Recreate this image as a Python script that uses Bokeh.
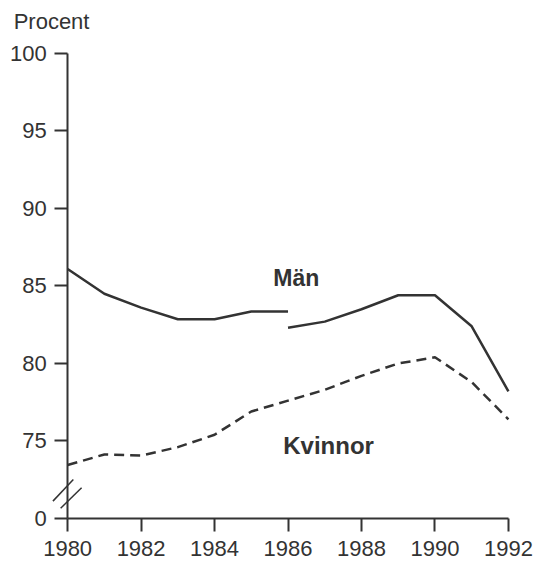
from bokeh.plotting import figure
from bokeh.models import FixedTicker, Label, Range1d
from bokeh.embed import file_html
from bokeh.resources import INLINE

years = list(range(1980, 1993))
men_years_a = [1980, 1981, 1982, 1983, 1984, 1985, 1986]
men_values_a = [86.1, 84.5, 83.6, 82.85, 82.85, 83.35, 83.35]
men_years_b = [1986, 1987, 1988, 1989, 1990, 1991, 1992]
men_values_b = [82.3, 82.7, 83.5, 84.4, 84.4, 82.4, 78.2]
women_values = [73.45, 74.13, 74.06, 74.6, 75.4, 76.9, 77.6, 78.3, 79.2, 80.0, 80.4, 78.8, 76.4]
y_ticks = [70, 75, 80, 85, 90, 95, 100]
y_tick_labels = {70: "0", 75: "75", 80: "80", 85: "85", 90: "90", 95: "95", 100: "100"}
x_ticks = [1980, 1982, 1984, 1986, 1988, 1990, 1992]

INK = "#333333"
FONT = "Liberation Sans"

# frame spans the whole canvas area; axes are fixed at 1980 / 70
p = figure(width=534, height=562, output_backend="svg", toolbar_location=None,
           x_range=Range1d(1978.39, 1992.71), y_range=Range1d(67.16, 102.9),
           min_border_left=8, min_border_right=0, min_border_top=8, min_border_bottom=0)
p.background_fill_color = "white"
p.border_fill_color = "white"
p.outline_line_color = None
p.grid.visible = False

# axes
p.xaxis.ticker = FixedTicker(ticks=x_ticks)
p.xaxis.bounds = (1980, 1992)
p.xaxis.fixed_location = 70
p.yaxis.ticker = FixedTicker(ticks=y_ticks)
p.yaxis.bounds = (70, 100)
p.yaxis.fixed_location = 1980
p.yaxis.major_label_overrides = y_tick_labels
for ax in (p.xaxis[0], p.yaxis[0]):
    ax.axis_line_color = INK
    ax.axis_line_width = 2
    ax.major_tick_line_color = INK
    ax.major_tick_line_width = 2
    ax.major_tick_in = 0
    ax.minor_tick_line_color = None
    ax.major_label_text_font = FONT
    ax.major_label_text_font_size = "22px"
    ax.major_label_text_color = INK
p.xaxis.major_tick_out = 13
p.xaxis.major_label_standoff = 10
p.yaxis.major_tick_out = 13
p.yaxis.major_label_standoff = 8

# data lines
p.line(men_years_a, men_values_a, line_color=INK, line_width=2.5)
p.line(men_years_b, men_values_b, line_color=INK, line_width=2.5)
p.line(years, women_values, line_color=INK, line_width=2.5, line_dash="10 6")

# axis break marks
p.segment(x0=[1979.6, 1979.81], y0=[71.12, 70.66], x1=[1980.155, 1980.38], y1=[72.52, 71.98],
          line_color=INK, line_width=1.5)

# texts
p.add_layout(Label(x=1978.53, y=102.85, text="Procent", text_font=FONT,
                   text_font_size="22px", text_color=INK, text_baseline="top"))
p.add_layout(Label(x=1985.6, y=85.5, text="Män", text_font=FONT, text_font_style="bold",
                   text_font_size="23px", text_color=INK, text_baseline="middle"))
p.add_layout(Label(x=1985.87, y=74.7, text="Kvinnor", text_font=FONT, text_font_style="bold",
                   text_font_size="24px", text_color=INK, text_baseline="middle"))

open("out.html", "w").write(file_html(p, INLINE))
